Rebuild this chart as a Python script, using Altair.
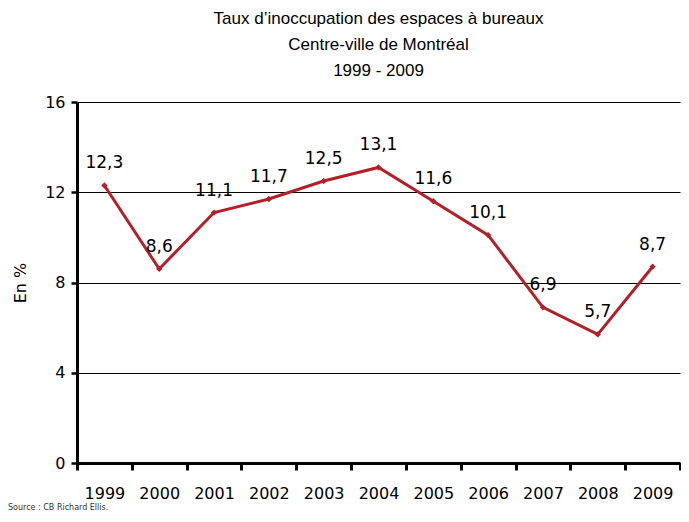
import altair as alt
import pandas as pd

years = ["1999", "2000", "2001", "2002", "2003", "2004", "2005", "2006", "2007", "2008", "2009"]
rates = [12.3, 8.6, 11.1, 11.7, 12.5, 13.1, 11.6, 10.1, 6.9, 5.7, 8.7]
y_ticks = [0, 4, 8, 12, 16]
title_lines = ["Taux d\u2019inoccupation des espaces à bureaux", "Centre-ville de Montréal", "1999 - 2009"]
source_text = "Source : CB Richard Ellis."

df = pd.DataFrame({"year": years, "rate": rates})
df["label"] = [f"{v:.1f}".replace(".", ",") for v in rates]

RED = "#B4202A"
FONT = "DejaVu Sans"

x = alt.X(
    "year:O",
    sort=years,
    bandPosition=0.5,
    scale=alt.Scale(type="band", paddingInner=0, paddingOuter=0),
    axis=alt.Axis(
        title=None, tickBand="extent", labelAngle=0, labelFont=FONT, labelFontSize=16,
        labelColor="black", domainColor="black", domainWidth=3, tickColor="black",
        tickWidth=3, tickSize=7, labelPadding=15, grid=False,
    ),
)
y = alt.Y(
    "rate:Q",
    scale=alt.Scale(domain=[0, 16], nice=False),
    axis=alt.Axis(
        title="En %", values=y_ticks, labelFont=FONT, labelFontSize=16, labelColor="black",
        titleFont=FONT, titleFontSize=16, titleFontWeight="normal", titleColor="black",
        titlePadding=16, domainColor="black", domainWidth=3, tickColor="black",
        tickWidth=2.5, tickSize=6, labelPadding=6, grid=True, gridColor="black",
        gridWidth=1,
    ),
)

base = alt.Chart(df)
line = base.mark_line(color=RED, strokeWidth=3, point=alt.OverlayMarkDef(shape="diamond", size=40, color=RED, filled=True)).encode(x=x, y=y)
labels = base.mark_text(font=FONT, fontSize=17, dy=-22, color="black").encode(
    x=alt.X("year:O", sort=years, bandPosition=0.5), y="rate:Q", text="label:N"
)
source = alt.Chart(pd.DataFrame({"t": [source_text]})).mark_text(
    font=FONT, fontSize=8, align="left", baseline="middle", color="#333"
).encode(x=alt.value(-69), y=alt.value(406), text="t:N")

chart = (
    alt.layer(line, labels, source)
    .properties(
        width=603,
        height=361,
        padding={"left": 69, "top": 94, "right": 1, "bottom": 51},
        autosize=alt.AutoSizeParams(type="none"),
        title=alt.TitleParams(
            text=title_lines, font="Liberation Sans", fontSize=17,
            fontWeight="normal", color="black", lineHeight=26, offset=14, anchor="middle",
        ),
    )
    .configure_view(stroke=None)
)

chart.save("out.html", embed_options={"renderer": "svg", "actions": False})
